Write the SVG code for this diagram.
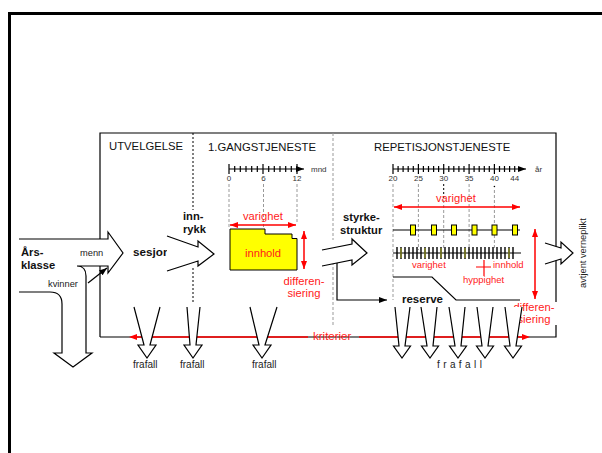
<svg xmlns="http://www.w3.org/2000/svg" width="602" height="453" viewBox="0 0 602 453">
<style>
text{font-family:"Liberation Sans",Arial,sans-serif;}
.t{font-size:11.3px;fill:#111;}
.b{font-size:11.2px;font-weight:bold;fill:#111;}
.s{font-size:9.3px;fill:#222;}
.ax{font-size:8px;fill:#333;}
.r{font-size:11.2px;fill:#ff1a1a;}
.rs{font-size:9.5px;fill:#ff1a1a;}
.f{font-size:10px;fill:#222;}
.ln{fill:none;stroke:#000;stroke-width:1.2;}
.wa{fill:#fff;stroke:#000;stroke-width:1.2;stroke-linejoin:miter;}
.gd{fill:none;stroke:#999;stroke-width:1;stroke-dasharray:3,2;}
.kd{fill:none;stroke:#000;stroke-width:1;stroke-dasharray:2,2;}
.red{fill:none;stroke:#ff0000;stroke-width:1.5;}
.yel{fill:#ffff00;stroke:#000;stroke-width:1;}
</style>
<defs>
<marker id="ra" viewBox="0 0 8 6" refX="8" refY="3" markerWidth="8" markerHeight="6" markerUnits="userSpaceOnUse" orient="auto-start-reverse"><path d="M0,0 L8,3 L0,6 z" fill="#ff0000"/></marker>
<marker id="ka" viewBox="0 0 8 6" refX="8" refY="3" markerWidth="8" markerHeight="6" markerUnits="userSpaceOnUse" orient="auto"><path d="M0,0 L8,3 L0,6 z" fill="#000"/></marker>
</defs>
<rect width="602" height="453" fill="#fff"/>
<path d="M9.5,453 V13.5 H602" fill="none" stroke="#000" stroke-width="3"/>

<g id="box">
<path class="ln" d="M100,337 V133 H556 V337 H100"/>
<path class="kd" d="M193,133 V210 M193,268 V304"/>
<path class="gd" d="M333,133 V240 M333,262 V326"/>
</g>

<g id="headers">
<text class="t" x="109" y="150">UTVELGELSE</text>
<text class="t" x="208" y="151">1.GANGSTJENESTE</text>
<text class="t" x="374" y="151">REPETISJONSTJENESTE</text>
</g>

<g id="arsklasse">
<path class="wa" d="M19,239 H108 V232 L123,253 L108,273 V266 H77 Q86,266 86,276 V353 H92 L73,367 L54,353 H62 V304 Q62,292 50,292 H19"/>
<line class="ln" x1="88" y1="283" x2="107" y2="268" marker-end="url(#ka)"/>
<text class="b" x="21" y="256">Års-</text>
<text class="b" x="21" y="269">klasse</text>
<text class="s" x="80" y="256">menn</text>
<text class="s" x="48" y="287">kvinner</text>
</g>

<g id="sesjon">
<text class="b" x="133" y="256" style="font-size:11.7px">sesjon</text>
</g>

<g id="innrykk">
<path class="wa" d="M167,236 L198,247 L198,241 L214,254 L198,266 L198,261 L167,271" fill="none"/>
<text class="b" x="183" y="220">inn-</text>
<text class="b" x="183" y="233">rykk</text>
</g>

<g id="forstegang">
<path class="ln" d="M229,169 H304" marker-end="url(#ka)"/>
<path class="ln" d="M229,164V174M263,164V174M297,164V174M234.7,166V172M240.3,166V172M246,166V172M251.7,166V172M257.3,166V172M268.7,166V172M274.3,166V172M280,166V172M285.7,166V172M291.3,166V172"/>
<text class="ax" x="311" y="172">mnd</text>
<text class="ax" x="229" y="181" text-anchor="middle">0</text>
<text class="ax" x="263.5" y="181" text-anchor="middle">6</text>
<text class="ax" x="297" y="181" text-anchor="middle">12</text>
<path class="gd" d="M229,184 V228 M263.5,184 V233 M297,184 V222"/>
<text class="r" x="243" y="220">varighet</text>
<line class="red" x1="230" y1="225" x2="296" y2="225" marker-start="url(#ra)" marker-end="url(#ra)"/>
<path class="yel" d="M230,229 H265 V234 H292 V238.5 H297 V270 H230 Z"/>
<text class="r" x="263" y="257" text-anchor="middle">innhold</text>
<line class="red" x1="304" y1="231" x2="304" y2="269" marker-start="url(#ra)" marker-end="url(#ra)"/>
<text class="r" x="304" y="285" text-anchor="middle">differen-</text>
<text class="r" x="304" y="297" text-anchor="middle">siering</text>
</g>

<g id="styrkestruktur">
<path class="wa" d="M322,250 L352,244 L352,239 L367,253 L352,265 L352,260 L322,266" fill="none"/>
<path class="ln" d="M337,263 V300 H387" marker-end="url(#ka)"/>
<text class="b" x="343" y="221">styrke-</text>
<text class="b" x="340" y="234">struktur</text>
</g>

<g id="repetisjon">
<path class="ln" d="M393,169 H526" marker-end="url(#ka)"/>
<path class="ln" d="M393,164V174M418.4,164V174M443.7,164V174M469.1,164V174M494.4,164V174M398.1,166V172M403.1,166V172M408.2,166V172M413.3,166V172M423.4,166V172M428.5,166V172M433.6,166V172M438.6,166V172M448.8,166V172M453.8,166V172M458.9,166V172M464,166V172M474.1,166V172M479.2,166V172M484.3,166V172M489.3,166V172M499.5,166V172M504.5,166V172M509.6,166V172M514.7,166V172"/>
<text class="ax" x="535" y="172">år</text>
<text class="ax" x="393" y="181" text-anchor="middle">20</text>
<text class="ax" x="418.4" y="181" text-anchor="middle">25</text>
<text class="ax" x="443.7" y="181" text-anchor="middle">30</text>
<text class="ax" x="469.1" y="181" text-anchor="middle">35</text>
<text class="ax" x="494.4" y="181" text-anchor="middle">40</text>
<text class="ax" x="514.7" y="181" text-anchor="middle">44</text>
<path class="gd" d="M393,184 V300 M418.4,184 V250 M469.1,184 V250 M494.4,190 V250 M443.7,200 V250"/>
<path class="kd" d="M443.7,184 V200"/>
<circle cx="494.4" cy="186.5" r="0.8" fill="#000"/>
<text class="r" x="436" y="202">varighet</text>
<line class="red" x1="394" y1="207" x2="520" y2="207" marker-start="url(#ra)" marker-end="url(#ra)"/>
<line class="ln" x1="393" y1="230" x2="520" y2="230"/>
<rect class="yel" x="410.5" y="225" width="5" height="10"/>
<rect class="yel" x="431.5" y="225" width="5" height="10"/>
<rect class="yel" x="451.5" y="225" width="5" height="10"/>
<rect class="yel" x="472" y="225" width="5" height="10"/>
<rect class="yel" x="492" y="225" width="5" height="10"/>
<rect class="yel" x="512.5" y="225" width="5" height="10"/>
<line class="ln" x1="393" y1="253" x2="521" y2="253"/>
<path d="M397,247V259M401,247V259M405,247V259M409,247V259M413,247V259M417,247V259M421,247V259M425,247V259M429,247V259M433,247V259M437,247V259M441,247V259M445,247V259M449,247V259M453,247V259M457,247V259M461,247V259M465,247V259M469,247V259M473,247V259M477,247V259M481,247V259M485,247V259M489,247V259M493,247V259M497,247V259M501,247V259M505,247V259M509,247V259M513,247V259" fill="none" stroke="#000" stroke-width="1.4"/>
<path d="M401,248V258M425,248V258M441,248V258M465,248V258M509,248V258" fill="none" stroke="#9a9a20" stroke-width="1.2"/>
<text class="rs" x="412" y="268">varighet</text>
<path d="M476,267 H491 M484,260 V276" stroke="#ff0000" stroke-width="1.2" fill="none"/>
<text class="rs" x="493" y="268">innhold</text>
<text class="rs" x="463" y="283">hyppighet</text>
<path class="ln" d="M393,277 H432 L456,300 H520"/>
<rect x="397" y="292" width="50" height="14" fill="#fff"/>
<text class="b" x="402" y="303" style="font-size:11.5px">reserve</text>
<line class="red" x1="535" y1="229" x2="535" y2="299" marker-start="url(#ra)" marker-end="url(#ra)"/>
<rect x="509" y="302" width="48" height="23" fill="#fff"/>
<text class="r" x="534" y="311" text-anchor="middle">differen-</text>
<text class="r" x="534" y="323" text-anchor="middle">siering</text>
</g>

<g id="avtjent">
<path class="wa" d="M545,243 L561,248 L561,242 L573,253 L561,264 L561,259 L545,264"/>
<text class="s" transform="translate(586,288) rotate(-90)">avtjent verneplikt</text>
</g>

<g id="kriterier">
<path class="red" d="M131,337 H308 M359,337 H528"/>
<path d="M129,337 L137,334 L137,340 Z M530,337 L522,334 L522,340 Z" fill="#ff0000"/>
<text class="r" x="313" y="340" style="font-size:11.5px">kriterier</text>
</g>

<g id="frafall">
<path class="wa" d="M134,307 L144,345 L138,345 L147,358 L156,345 L150,345 L160,307"/>
<path class="wa" d="M187,307 L190,345 L184,345 L193,358 L202,345 L196,345 L200,307"/>
<path class="wa" d="M250,307 L259,345 L253,345 L262,358 L271,345 L265,345 L277,307"/>
<path class="wa" d="M395,307 L399,346 L393.5,346 L402,358 L410.5,346 L405,346 L410,307"/>
<path class="wa" d="M421,307 L427,346 L421.5,346 L430,358 L438.5,346 L433,346 L437,307"/>
<path class="wa" d="M449,307 L455,346 L449.5,346 L458,358 L466.5,346 L461,346 L465,307"/>
<path class="wa" d="M477,307 L482,346 L476.5,346 L485,358 L493.5,346 L488,346 L493,307"/>
<path class="wa" d="M505,307 L510,346 L504.5,346 L513,358 L521.5,346 L516,346 L522,307"/>
<text class="f" x="133" y="368">frafall</text>
<text class="f" x="180" y="368">frafall</text>
<text class="f" x="252" y="368">frafall</text>
<text class="f" x="437" y="368" style="letter-spacing:3.4px">frafall</text>
</g>
</svg>
